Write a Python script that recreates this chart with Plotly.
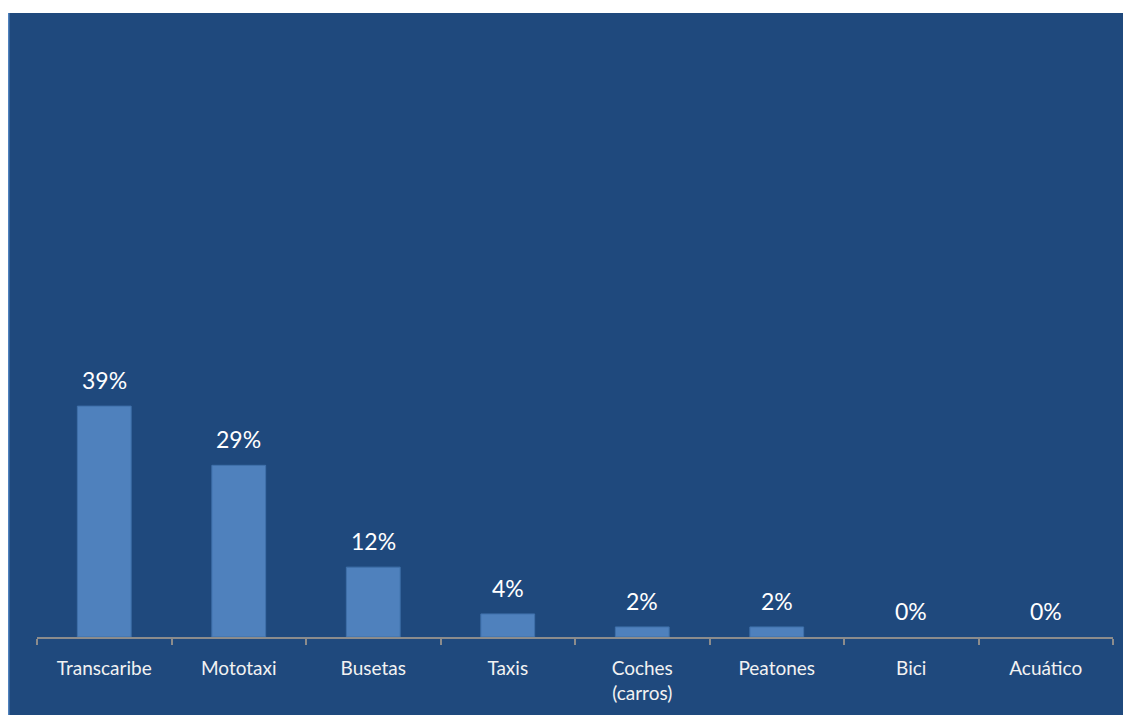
import plotly.graph_objects as go

categories = ["Transcaribe", "Mototaxi", "Busetas", "Taxis", "Coches<br>(carros)", "Peatones", "Bici", "Acuático"]
values = [0.39, 0.29, 0.118, 0.039, 0.017, 0.017, 0.0, 0.0]
labels = ["39%", "29%", "12%", "4%", "2%", "2%", "0%", "0%"]

W, H = 1123, 707
L, R, T, B = 29, 18, 37, 78
pw, ph = W - L - R, H - T - B

fig = go.Figure(go.Bar(
    x=categories, y=values,
    marker=dict(color="#4F81BD",
                line=dict(color="#3F70AA", width=[1 if v > 0 else 0 for v in values])),
    width=0.4, cliponaxis=False,
))

for c, v, t in zip(categories, values, labels):
    fig.add_annotation(x=c, y=v, text=t, showarrow=False, yanchor="bottom",
                       yshift=10, font=dict(color="white", size=23, family="Lato"))

fig.add_shape(type="rect", xref="paper", yref="paper", layer="below",
              x0=(0 - L) / pw, x1=(W - L) / pw,
              y0=-B / ph, y1=(H - 5 - B) / ph,
              fillcolor="#1F497D", line=dict(width=0))
fig.add_shape(type="line", xref="paper", yref="paper", layer="below",
              x0=(0.5 - L) / pw, x1=(0.5 - L) / pw,
              y0=-B / ph, y1=(H - 5 - B) / ph,
              line=dict(color="#4F81BD", width=2))

fig.update_layout(
    width=W, height=H,
    margin=dict(l=L, r=R, t=T, b=B),
    paper_bgcolor="white", plot_bgcolor="rgba(0,0,0,0)",
    showlegend=False,
    font=dict(family="Lato", color="white"),
    xaxis=dict(
        showline=True, linecolor="#8C8C8C", linewidth=2,
        ticks="outside", tickson="boundaries", ticklen=6, tickcolor="#8C8C8C", tickwidth=2,
        tickfont=dict(size=19, color="#F2F2F2", family="Lato"),
        ticklabelstandoff=13,
        showgrid=False, zeroline=False,
    ),
    yaxis=dict(visible=False, range=[0, 1.0], showgrid=False, zeroline=False),
)

fig.write_html("out.html")
